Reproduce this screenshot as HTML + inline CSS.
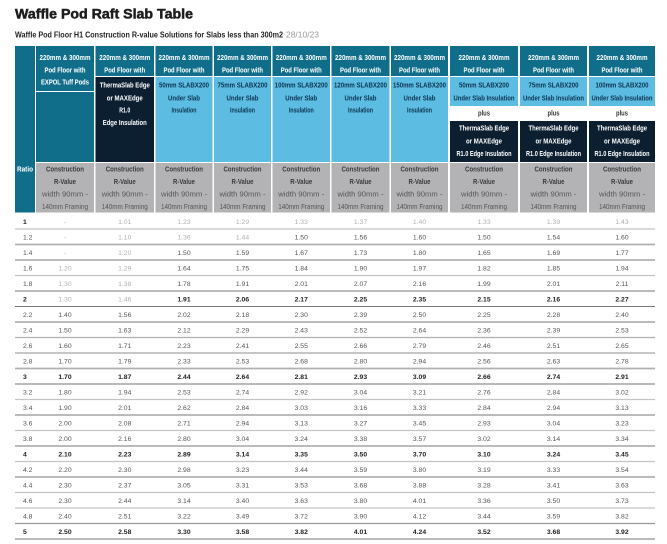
<!DOCTYPE html>
<html><head><meta charset="utf-8">
<style>
html,body{margin:0;padding:0;background:#fff;}
svg{display:block;}
text{font-family:"Liberation Sans Narrow","Liberation Sans",sans-serif;}
.h{fill:#fff;font-weight:bold;font-size:7.5px;text-anchor:middle;}
.g1{fill:#3a3a3a;font-weight:bold;font-size:7.5px;text-anchor:middle;}
.g2{fill:#555;font-size:7.5px;text-anchor:middle;}
.pl{fill:#333;font-weight:bold;font-size:7.5px;text-anchor:middle;}
.row text{font-size:6.8px;text-anchor:middle;fill:#555;}
.row text.l{fill:#b0b0b0;}
.row text.ra{text-anchor:start;fill:#555;}
.row.b text{font-weight:bold;fill:#222;}
.row.b text.l{fill:#b0b0b0;font-weight:normal;}
</style></head>
<body>
<svg width="667" height="544" viewBox="0 0 667 544" xmlns="http://www.w3.org/2000/svg">
<rect width="667" height="544" fill="#fff"/>
<text x="15" y="18.5" font-size="13.5" font-weight="bold" fill="#1d1d1d" stroke="#1d1d1d" stroke-width="0.5" textLength="178" lengthAdjust="spacingAndGlyphs">Waffle Pod Raft Slab Table</text>
<text x="15" y="37.7" font-size="8" font-weight="bold" fill="#222" textLength="268" lengthAdjust="spacingAndGlyphs">Waffle Pod Floor H1 Construction R-value Solutions for Slabs less than 300m2</text>
<text x="286" y="37.7" font-size="8" fill="#999" textLength="33" lengthAdjust="spacingAndGlyphs">28/10/23</text>

<!-- ratio column -->
<rect x="15" y="46" width="20" height="166.5" fill="#116e8b"/>
<text x="17" y="171.7" font-size="7.5" font-weight="bold" fill="#fff" textLength="16" lengthAdjust="spacingAndGlyphs">Ratio</text>

<!-- col1 -->
<rect x="36" y="46" width="58" height="45" fill="#116e8b"/>
<rect x="36" y="92" width="58" height="70" fill="#116e8b"/>
<rect x="36" y="163" width="58" height="49.5" fill="#b3b3b6"/>
<!-- col2 -->
<rect x="95.5" y="46" width="58.5" height="30" fill="#116e8b"/>
<rect x="95.5" y="77" width="58.5" height="85" fill="#0b1f30"/>
<rect x="95.5" y="163" width="58.5" height="49.5" fill="#b3b3b6"/>
<!-- col3-7 -->
<rect x="155.5" y="46" width="57" height="30" fill="#116e8b"/>
<rect x="155.5" y="77" width="57" height="85" fill="#5cbce2"/>
<rect x="155.5" y="163" width="57" height="49.5" fill="#b3b3b6"/>
<rect x="214" y="46" width="57" height="30" fill="#116e8b"/>
<rect x="214" y="77" width="57" height="85" fill="#5cbce2"/>
<rect x="214" y="163" width="57" height="49.5" fill="#b3b3b6"/>
<rect x="272.5" y="46" width="57.5" height="30" fill="#116e8b"/>
<rect x="272.5" y="77" width="57.5" height="85" fill="#5cbce2"/>
<rect x="272.5" y="163" width="57.5" height="49.5" fill="#b3b3b6"/>
<rect x="331.5" y="46" width="58" height="30" fill="#116e8b"/>
<rect x="331.5" y="77" width="58" height="85" fill="#5cbce2"/>
<rect x="331.5" y="163" width="58" height="49.5" fill="#b3b3b6"/>
<rect x="391" y="46" width="57" height="30" fill="#116e8b"/>
<rect x="391" y="77" width="57" height="85" fill="#5cbce2"/>
<rect x="391" y="163" width="57" height="49.5" fill="#b3b3b6"/>
<!-- col8-10 -->
<rect x="450" y="46" width="68" height="30" fill="#116e8b"/>
<rect x="450" y="77" width="68" height="29" fill="#5cbce2"/>
<rect x="450" y="121" width="68" height="41" fill="#0b1f30"/>
<rect x="450" y="163" width="68" height="49.5" fill="#b3b3b6"/>
<rect x="520" y="46" width="67" height="30" fill="#116e8b"/>
<rect x="520" y="77" width="67" height="29" fill="#5cbce2"/>
<rect x="520" y="121" width="67" height="41" fill="#0b1f30"/>
<rect x="520" y="163" width="67" height="49.5" fill="#b3b3b6"/>
<rect x="589" y="46" width="66" height="30" fill="#116e8b"/>
<rect x="589" y="77" width="66" height="29" fill="#5cbce2"/>
<rect x="589" y="121" width="66" height="41" fill="#0b1f30"/>
<rect x="589" y="163" width="66" height="49.5" fill="#b3b3b6"/>

<!-- header top texts -->
<g class="h">
<text x="65" y="60.2" textLength="51" lengthAdjust="spacingAndGlyphs">220mm &amp; 300mm</text>
<text x="65" y="72.7" textLength="41" lengthAdjust="spacingAndGlyphs">Pod Floor with</text>
<text x="65" y="84.7" textLength="48" lengthAdjust="spacingAndGlyphs">EXPOL Tuff Pods</text>
<text x="124.75" y="60.2" textLength="51" lengthAdjust="spacingAndGlyphs">220mm &amp; 300mm</text>
<text x="124.75" y="72.7" textLength="41" lengthAdjust="spacingAndGlyphs">Pod Floor with</text>
<text x="184" y="60.2" textLength="51" lengthAdjust="spacingAndGlyphs">220mm &amp; 300mm</text>
<text x="184" y="72.7" textLength="41" lengthAdjust="spacingAndGlyphs">Pod Floor with</text>
<text x="242.5" y="60.2" textLength="51" lengthAdjust="spacingAndGlyphs">220mm &amp; 300mm</text>
<text x="242.5" y="72.7" textLength="41" lengthAdjust="spacingAndGlyphs">Pod Floor with</text>
<text x="301.25" y="60.2" textLength="51" lengthAdjust="spacingAndGlyphs">220mm &amp; 300mm</text>
<text x="301.25" y="72.7" textLength="41" lengthAdjust="spacingAndGlyphs">Pod Floor with</text>
<text x="360.5" y="60.2" textLength="51" lengthAdjust="spacingAndGlyphs">220mm &amp; 300mm</text>
<text x="360.5" y="72.7" textLength="41" lengthAdjust="spacingAndGlyphs">Pod Floor with</text>
<text x="419.5" y="60.2" textLength="51" lengthAdjust="spacingAndGlyphs">220mm &amp; 300mm</text>
<text x="419.5" y="72.7" textLength="41" lengthAdjust="spacingAndGlyphs">Pod Floor with</text>
<text x="484" y="60.2" textLength="51" lengthAdjust="spacingAndGlyphs">220mm &amp; 300mm</text>
<text x="484" y="72.7" textLength="41" lengthAdjust="spacingAndGlyphs">Pod Floor with</text>
<text x="553.5" y="60.2" textLength="51" lengthAdjust="spacingAndGlyphs">220mm &amp; 300mm</text>
<text x="553.5" y="72.7" textLength="41" lengthAdjust="spacingAndGlyphs">Pod Floor with</text>
<text x="622" y="60.2" textLength="51" lengthAdjust="spacingAndGlyphs">220mm &amp; 300mm</text>
<text x="622" y="72.7" textLength="41" lengthAdjust="spacingAndGlyphs">Pod Floor with</text>

<text x="124.75" y="87.7" textLength="50" lengthAdjust="spacingAndGlyphs">ThermaSlab Edge</text>
<text x="124.75" y="100.7" textLength="36" lengthAdjust="spacingAndGlyphs">or MAXEdge</text>
<text x="124.75" y="112.7" textLength="11" lengthAdjust="spacingAndGlyphs">R1.0</text>
<text x="124.75" y="125.2" textLength="44" lengthAdjust="spacingAndGlyphs">Edge Insulation</text>
</g>
<g class="h" style="fill:#0d3550">
<text x="184" y="87.7" textLength="50" lengthAdjust="spacingAndGlyphs">50mm SLABX200</text>
<text x="184" y="100.7" textLength="32" lengthAdjust="spacingAndGlyphs">Under Slab</text>
<text x="184" y="112.7" textLength="25" lengthAdjust="spacingAndGlyphs">Insulation</text>
<text x="242.5" y="87.7" textLength="50" lengthAdjust="spacingAndGlyphs">75mm SLABX200</text>
<text x="242.5" y="100.7" textLength="32" lengthAdjust="spacingAndGlyphs">Under Slab</text>
<text x="242.5" y="112.7" textLength="25" lengthAdjust="spacingAndGlyphs">Insulation</text>
<text x="301.25" y="87.7" textLength="53" lengthAdjust="spacingAndGlyphs">100mm SLABX200</text>
<text x="301.25" y="100.7" textLength="32" lengthAdjust="spacingAndGlyphs">Under Slab</text>
<text x="301.25" y="112.7" textLength="25" lengthAdjust="spacingAndGlyphs">Insulation</text>
<text x="360.5" y="87.7" textLength="53" lengthAdjust="spacingAndGlyphs">120mm SLABX200</text>
<text x="360.5" y="100.7" textLength="32" lengthAdjust="spacingAndGlyphs">Under Slab</text>
<text x="360.5" y="112.7" textLength="25" lengthAdjust="spacingAndGlyphs">Insulation</text>
<text x="419.5" y="87.7" textLength="53" lengthAdjust="spacingAndGlyphs">150mm SLABX200</text>
<text x="419.5" y="100.7" textLength="32" lengthAdjust="spacingAndGlyphs">Under Slab</text>
<text x="419.5" y="112.7" textLength="25" lengthAdjust="spacingAndGlyphs">Insulation</text>
<text x="484" y="87.7" textLength="50" lengthAdjust="spacingAndGlyphs">50mm SLABX200</text>
<text x="484" y="100.7" textLength="61" lengthAdjust="spacingAndGlyphs">Under Slab Insulation</text>
<text x="553.5" y="87.7" textLength="50" lengthAdjust="spacingAndGlyphs">75mm SLABX200</text>
<text x="553.5" y="100.7" textLength="61" lengthAdjust="spacingAndGlyphs">Under Slab Insulation</text>
<text x="622" y="87.7" textLength="53" lengthAdjust="spacingAndGlyphs">100mm SLABX200</text>
<text x="622" y="100.7" textLength="61" lengthAdjust="spacingAndGlyphs">Under Slab Insulation</text>
</g>
<g class="pl">
<text x="484" y="115.7" textLength="12" lengthAdjust="spacingAndGlyphs">plus</text>
<text x="553.5" y="115.7" textLength="12" lengthAdjust="spacingAndGlyphs">plus</text>
<text x="622" y="115.7" textLength="12" lengthAdjust="spacingAndGlyphs">plus</text>
</g>
<g class="h">
<text x="484" y="130.7" textLength="50" lengthAdjust="spacingAndGlyphs">ThermaSlab Edge</text>
<text x="484" y="143.7" textLength="36" lengthAdjust="spacingAndGlyphs">or MAXEdge</text>
<text x="484" y="156.2" textLength="55" lengthAdjust="spacingAndGlyphs">R1.0 Edge Insulation</text>
<text x="553.5" y="130.7" textLength="50" lengthAdjust="spacingAndGlyphs">ThermaSlab Edge</text>
<text x="553.5" y="143.7" textLength="36" lengthAdjust="spacingAndGlyphs">or MAXEdge</text>
<text x="553.5" y="156.2" textLength="55" lengthAdjust="spacingAndGlyphs">R1.0 Edge Insulation</text>
<text x="622" y="130.7" textLength="50" lengthAdjust="spacingAndGlyphs">ThermaSlab Edge</text>
<text x="622" y="143.7" textLength="36" lengthAdjust="spacingAndGlyphs">or MAXEdge</text>
<text x="622" y="156.2" textLength="55" lengthAdjust="spacingAndGlyphs">R1.0 Edge Insulation</text>
</g>

<!-- gray header texts -->
<g class="g1">
<text x="65" y="171.7" textLength="38" lengthAdjust="spacingAndGlyphs">Construction</text>
<text x="124.75" y="171.7" textLength="38" lengthAdjust="spacingAndGlyphs">Construction</text>
<text x="184" y="171.7" textLength="38" lengthAdjust="spacingAndGlyphs">Construction</text>
<text x="242.5" y="171.7" textLength="38" lengthAdjust="spacingAndGlyphs">Construction</text>
<text x="301.25" y="171.7" textLength="38" lengthAdjust="spacingAndGlyphs">Construction</text>
<text x="360.5" y="171.7" textLength="38" lengthAdjust="spacingAndGlyphs">Construction</text>
<text x="419.5" y="171.7" textLength="38" lengthAdjust="spacingAndGlyphs">Construction</text>
<text x="484" y="171.7" textLength="38" lengthAdjust="spacingAndGlyphs">Construction</text>
<text x="553.5" y="171.7" textLength="38" lengthAdjust="spacingAndGlyphs">Construction</text>
<text x="622" y="171.7" textLength="38" lengthAdjust="spacingAndGlyphs">Construction</text>
<text x="65" y="184.2" textLength="22" lengthAdjust="spacingAndGlyphs">R-Value</text>
<text x="124.75" y="184.2" textLength="22" lengthAdjust="spacingAndGlyphs">R-Value</text>
<text x="184" y="184.2" textLength="22" lengthAdjust="spacingAndGlyphs">R-Value</text>
<text x="242.5" y="184.2" textLength="22" lengthAdjust="spacingAndGlyphs">R-Value</text>
<text x="301.25" y="184.2" textLength="22" lengthAdjust="spacingAndGlyphs">R-Value</text>
<text x="360.5" y="184.2" textLength="22" lengthAdjust="spacingAndGlyphs">R-Value</text>
<text x="419.5" y="184.2" textLength="22" lengthAdjust="spacingAndGlyphs">R-Value</text>
<text x="484" y="184.2" textLength="22" lengthAdjust="spacingAndGlyphs">R-Value</text>
<text x="553.5" y="184.2" textLength="22" lengthAdjust="spacingAndGlyphs">R-Value</text>
<text x="622" y="184.2" textLength="22" lengthAdjust="spacingAndGlyphs">R-Value</text>
</g>
<g class="g2">
<text x="65" y="196.7" textLength="46" lengthAdjust="spacingAndGlyphs">width 90mm -</text>
<text x="124.75" y="196.7" textLength="46" lengthAdjust="spacingAndGlyphs">width 90mm -</text>
<text x="184" y="196.7" textLength="46" lengthAdjust="spacingAndGlyphs">width 90mm -</text>
<text x="242.5" y="196.7" textLength="46" lengthAdjust="spacingAndGlyphs">width 90mm -</text>
<text x="301.25" y="196.7" textLength="46" lengthAdjust="spacingAndGlyphs">width 90mm -</text>
<text x="360.5" y="196.7" textLength="46" lengthAdjust="spacingAndGlyphs">width 90mm -</text>
<text x="419.5" y="196.7" textLength="46" lengthAdjust="spacingAndGlyphs">width 90mm -</text>
<text x="484" y="196.7" textLength="46" lengthAdjust="spacingAndGlyphs">width 90mm -</text>
<text x="553.5" y="196.7" textLength="46" lengthAdjust="spacingAndGlyphs">width 90mm -</text>
<text x="622" y="196.7" textLength="46" lengthAdjust="spacingAndGlyphs">width 90mm -</text>
<text x="65" y="209.2" textLength="46" lengthAdjust="spacingAndGlyphs">140mm Framing</text>
<text x="124.75" y="209.2" textLength="46" lengthAdjust="spacingAndGlyphs">140mm Framing</text>
<text x="184" y="209.2" textLength="46" lengthAdjust="spacingAndGlyphs">140mm Framing</text>
<text x="242.5" y="209.2" textLength="46" lengthAdjust="spacingAndGlyphs">140mm Framing</text>
<text x="301.25" y="209.2" textLength="46" lengthAdjust="spacingAndGlyphs">140mm Framing</text>
<text x="360.5" y="209.2" textLength="46" lengthAdjust="spacingAndGlyphs">140mm Framing</text>
<text x="419.5" y="209.2" textLength="46" lengthAdjust="spacingAndGlyphs">140mm Framing</text>
<text x="484" y="209.2" textLength="46" lengthAdjust="spacingAndGlyphs">140mm Framing</text>
<text x="553.5" y="209.2" textLength="46" lengthAdjust="spacingAndGlyphs">140mm Framing</text>
<text x="622" y="209.2" textLength="46" lengthAdjust="spacingAndGlyphs">140mm Framing</text>
</g>

<!-- row lines -->
<g stroke="#a3a3a3" stroke-width="1.3">
<line x1="15" y1="229" x2="655" y2="229" stroke="#c4c4c4"/>
<line x1="15" y1="244.5" x2="655" y2="244.5" stroke="#b0b0b0" stroke-width="1.8"/>
<line x1="15" y1="260" x2="655" y2="260" stroke="#777" stroke-width="1"/>
<line x1="15" y1="275.5" x2="655" y2="275.5" stroke="#c4c4c4"/>
<line x1="15" y1="291" x2="655" y2="291" stroke="#b0b0b0" stroke-width="1.8"/>
<line x1="15" y1="306.5" x2="655" y2="306.5" stroke="#777" stroke-width="1"/>
<line x1="15" y1="322" x2="655" y2="322" stroke="#777" stroke-width="1"/>
<line x1="15" y1="337.5" x2="655" y2="337.5" stroke="#b0b0b0"/>
<line x1="15" y1="353" x2="655" y2="353"/>
<line x1="15" y1="368.5" x2="655" y2="368.5" stroke="#b0b0b0" stroke-width="1.8"/>
<line x1="15" y1="384" x2="655" y2="384" stroke="#b0b0b0" stroke-width="1.8"/>
<line x1="15" y1="399.5" x2="655" y2="399.5" stroke="#c4c4c4"/>
<line x1="15" y1="415" x2="655" y2="415" stroke="#777" stroke-width="1"/>
<line x1="15" y1="430.5" x2="655" y2="430.5" stroke="#c4c4c4"/>
<line x1="15" y1="446" x2="655" y2="446" stroke="#777" stroke-width="1"/>
<line x1="15" y1="461.5" x2="655" y2="461.5" stroke="#c4c4c4"/>
<line x1="15" y1="477" x2="655" y2="477" stroke="#777" stroke-width="1"/>
<line x1="15" y1="492.5" x2="655" y2="492.5" stroke="#c4c4c4"/>
<line x1="15" y1="508" x2="655" y2="508" stroke="#c4c4c4"/>
<line x1="15" y1="523.5" x2="655" y2="523.5" stroke="#999"/>
<line x1="15" y1="539" x2="655" y2="539" stroke="#b0b0b0" stroke-width="1.8"/>
</g>

<!-- data rows -->
<g class="row b" transform="translate(0,223.9)"><text class="ra" x="23">1</text><text class="l" x="65">-</text><text class="l" x="124.75">1.01</text><text class="l" x="184">1.23</text><text class="l" x="242.5">1.29</text><text class="l" x="301.25">1.33</text><text class="l" x="360.5">1.37</text><text class="l" x="419.5">1.40</text><text class="l" x="484">1.33</text><text class="l" x="553.5">1.39</text><text class="l" x="622">1.43</text></g>
<g class="row" transform="translate(0,239.4)"><text class="ra" x="23">1.2</text><text class="l" x="65">-</text><text class="l" x="124.75">1.10</text><text class="l" x="184">1.36</text><text class="l" x="242.5">1.44</text><text x="301.25">1.50</text><text x="360.5">1.56</text><text x="419.5">1.60</text><text x="484">1.50</text><text x="553.5">1.54</text><text x="622">1.60</text></g>
<g class="row" transform="translate(0,254.9)"><text class="ra" x="23">1.4</text><text class="l" x="65">-</text><text class="l" x="124.75">1.20</text><text x="184">1.50</text><text x="242.5">1.59</text><text x="301.25">1.67</text><text x="360.5">1.73</text><text x="419.5">1.80</text><text x="484">1.65</text><text x="553.5">1.69</text><text x="622">1.77</text></g>
<g class="row" transform="translate(0,270.4)"><text class="ra" x="23">1.6</text><text class="l" x="65">1.20</text><text class="l" x="124.75">1.29</text><text x="184">1.64</text><text x="242.5">1.75</text><text x="301.25">1.84</text><text x="360.5">1.90</text><text x="419.5">1.97</text><text x="484">1.82</text><text x="553.5">1.85</text><text x="622">1.94</text></g>
<g class="row" transform="translate(0,285.9)"><text class="ra" x="23">1.8</text><text class="l" x="65">1.30</text><text class="l" x="124.75">1.38</text><text x="184">1.78</text><text x="242.5">1.91</text><text x="301.25">2.01</text><text x="360.5">2.07</text><text x="419.5">2.16</text><text x="484">1.99</text><text x="553.5">2.01</text><text x="622">2.11</text></g>
<g class="row b" transform="translate(0,301.4)"><text class="ra" x="23">2</text><text class="l" x="65">1.30</text><text class="l" x="124.75">1.46</text><text x="184">1.91</text><text x="242.5">2.06</text><text x="301.25">2.17</text><text x="360.5">2.25</text><text x="419.5">2.35</text><text x="484">2.15</text><text x="553.5">2.16</text><text x="622">2.27</text></g>
<g class="row" transform="translate(0,316.9)"><text class="ra" x="23">2.2</text><text x="65">1.40</text><text x="124.75">1.56</text><text x="184">2.02</text><text x="242.5">2.18</text><text x="301.25">2.30</text><text x="360.5">2.39</text><text x="419.5">2.50</text><text x="484">2.25</text><text x="553.5">2.28</text><text x="622">2.40</text></g>
<g class="row" transform="translate(0,332.4)"><text class="ra" x="23">2.4</text><text x="65">1.50</text><text x="124.75">1.63</text><text x="184">2.12</text><text x="242.5">2.29</text><text x="301.25">2.43</text><text x="360.5">2.52</text><text x="419.5">2.64</text><text x="484">2.36</text><text x="553.5">2.39</text><text x="622">2.53</text></g>
<g class="row" transform="translate(0,347.9)"><text class="ra" x="23">2.6</text><text x="65">1.60</text><text x="124.75">1.71</text><text x="184">2.23</text><text x="242.5">2.41</text><text x="301.25">2.55</text><text x="360.5">2.66</text><text x="419.5">2.79</text><text x="484">2.46</text><text x="553.5">2.51</text><text x="622">2.65</text></g>
<g class="row" transform="translate(0,363.4)"><text class="ra" x="23">2.8</text><text x="65">1.70</text><text x="124.75">1.79</text><text x="184">2.33</text><text x="242.5">2.53</text><text x="301.25">2.68</text><text x="360.5">2.80</text><text x="419.5">2.94</text><text x="484">2.56</text><text x="553.5">2.63</text><text x="622">2.78</text></g>
<g class="row b" transform="translate(0,378.9)"><text class="ra" x="23">3</text><text x="65">1.70</text><text x="124.75">1.87</text><text x="184">2.44</text><text x="242.5">2.64</text><text x="301.25">2.81</text><text x="360.5">2.93</text><text x="419.5">3.09</text><text x="484">2.66</text><text x="553.5">2.74</text><text x="622">2.91</text></g>
<g class="row" transform="translate(0,394.4)"><text class="ra" x="23">3.2</text><text x="65">1.80</text><text x="124.75">1.94</text><text x="184">2.53</text><text x="242.5">2.74</text><text x="301.25">2.92</text><text x="360.5">3.04</text><text x="419.5">3.21</text><text x="484">2.76</text><text x="553.5">2.84</text><text x="622">3.02</text></g>
<g class="row" transform="translate(0,409.9)"><text class="ra" x="23">3.4</text><text x="65">1.90</text><text x="124.75">2.01</text><text x="184">2.62</text><text x="242.5">2.84</text><text x="301.25">3.03</text><text x="360.5">3.16</text><text x="419.5">3.33</text><text x="484">2.84</text><text x="553.5">2.94</text><text x="622">3.13</text></g>
<g class="row" transform="translate(0,425.4)"><text class="ra" x="23">3.6</text><text x="65">2.00</text><text x="124.75">2.08</text><text x="184">2.71</text><text x="242.5">2.94</text><text x="301.25">3.13</text><text x="360.5">3.27</text><text x="419.5">3.45</text><text x="484">2.93</text><text x="553.5">3.04</text><text x="622">3.23</text></g>
<g class="row" transform="translate(0,440.9)"><text class="ra" x="23">3.8</text><text x="65">2.00</text><text x="124.75">2.16</text><text x="184">2.80</text><text x="242.5">3.04</text><text x="301.25">3.24</text><text x="360.5">3.38</text><text x="419.5">3.57</text><text x="484">3.02</text><text x="553.5">3.14</text><text x="622">3.34</text></g>
<g class="row b" transform="translate(0,456.4)"><text class="ra" x="23">4</text><text x="65">2.10</text><text x="124.75">2.23</text><text x="184">2.89</text><text x="242.5">3.14</text><text x="301.25">3.35</text><text x="360.5">3.50</text><text x="419.5">3.70</text><text x="484">3.10</text><text x="553.5">3.24</text><text x="622">3.45</text></g>
<g class="row" transform="translate(0,471.9)"><text class="ra" x="23">4.2</text><text x="65">2.20</text><text x="124.75">2.30</text><text x="184">2.98</text><text x="242.5">3.23</text><text x="301.25">3.44</text><text x="360.5">3.59</text><text x="419.5">3.80</text><text x="484">3.19</text><text x="553.5">3.33</text><text x="622">3.54</text></g>
<g class="row" transform="translate(0,487.4)"><text class="ra" x="23">4.4</text><text x="65">2.30</text><text x="124.75">2.37</text><text x="184">3.05</text><text x="242.5">3.31</text><text x="301.25">3.53</text><text x="360.5">3.68</text><text x="419.5">3.88</text><text x="484">3.28</text><text x="553.5">3.41</text><text x="622">3.63</text></g>
<g class="row" transform="translate(0,502.9)"><text class="ra" x="23">4.6</text><text x="65">2.30</text><text x="124.75">2.44</text><text x="184">3.14</text><text x="242.5">3.40</text><text x="301.25">3.63</text><text x="360.5">3.80</text><text x="419.5">4.01</text><text x="484">3.36</text><text x="553.5">3.50</text><text x="622">3.73</text></g>
<g class="row" transform="translate(0,518.4)"><text class="ra" x="23">4.8</text><text x="65">2.40</text><text x="124.75">2.51</text><text x="184">3.22</text><text x="242.5">3.49</text><text x="301.25">3.72</text><text x="360.5">3.90</text><text x="419.5">4.12</text><text x="484">3.44</text><text x="553.5">3.59</text><text x="622">3.82</text></g>
<g class="row b" transform="translate(0,533.9)"><text class="ra" x="23">5</text><text x="65">2.50</text><text x="124.75">2.58</text><text x="184">3.30</text><text x="242.5">3.58</text><text x="301.25">3.82</text><text x="360.5">4.01</text><text x="419.5">4.24</text><text x="484">3.52</text><text x="553.5">3.68</text><text x="622">3.92</text></g>
</svg>
</body></html>
